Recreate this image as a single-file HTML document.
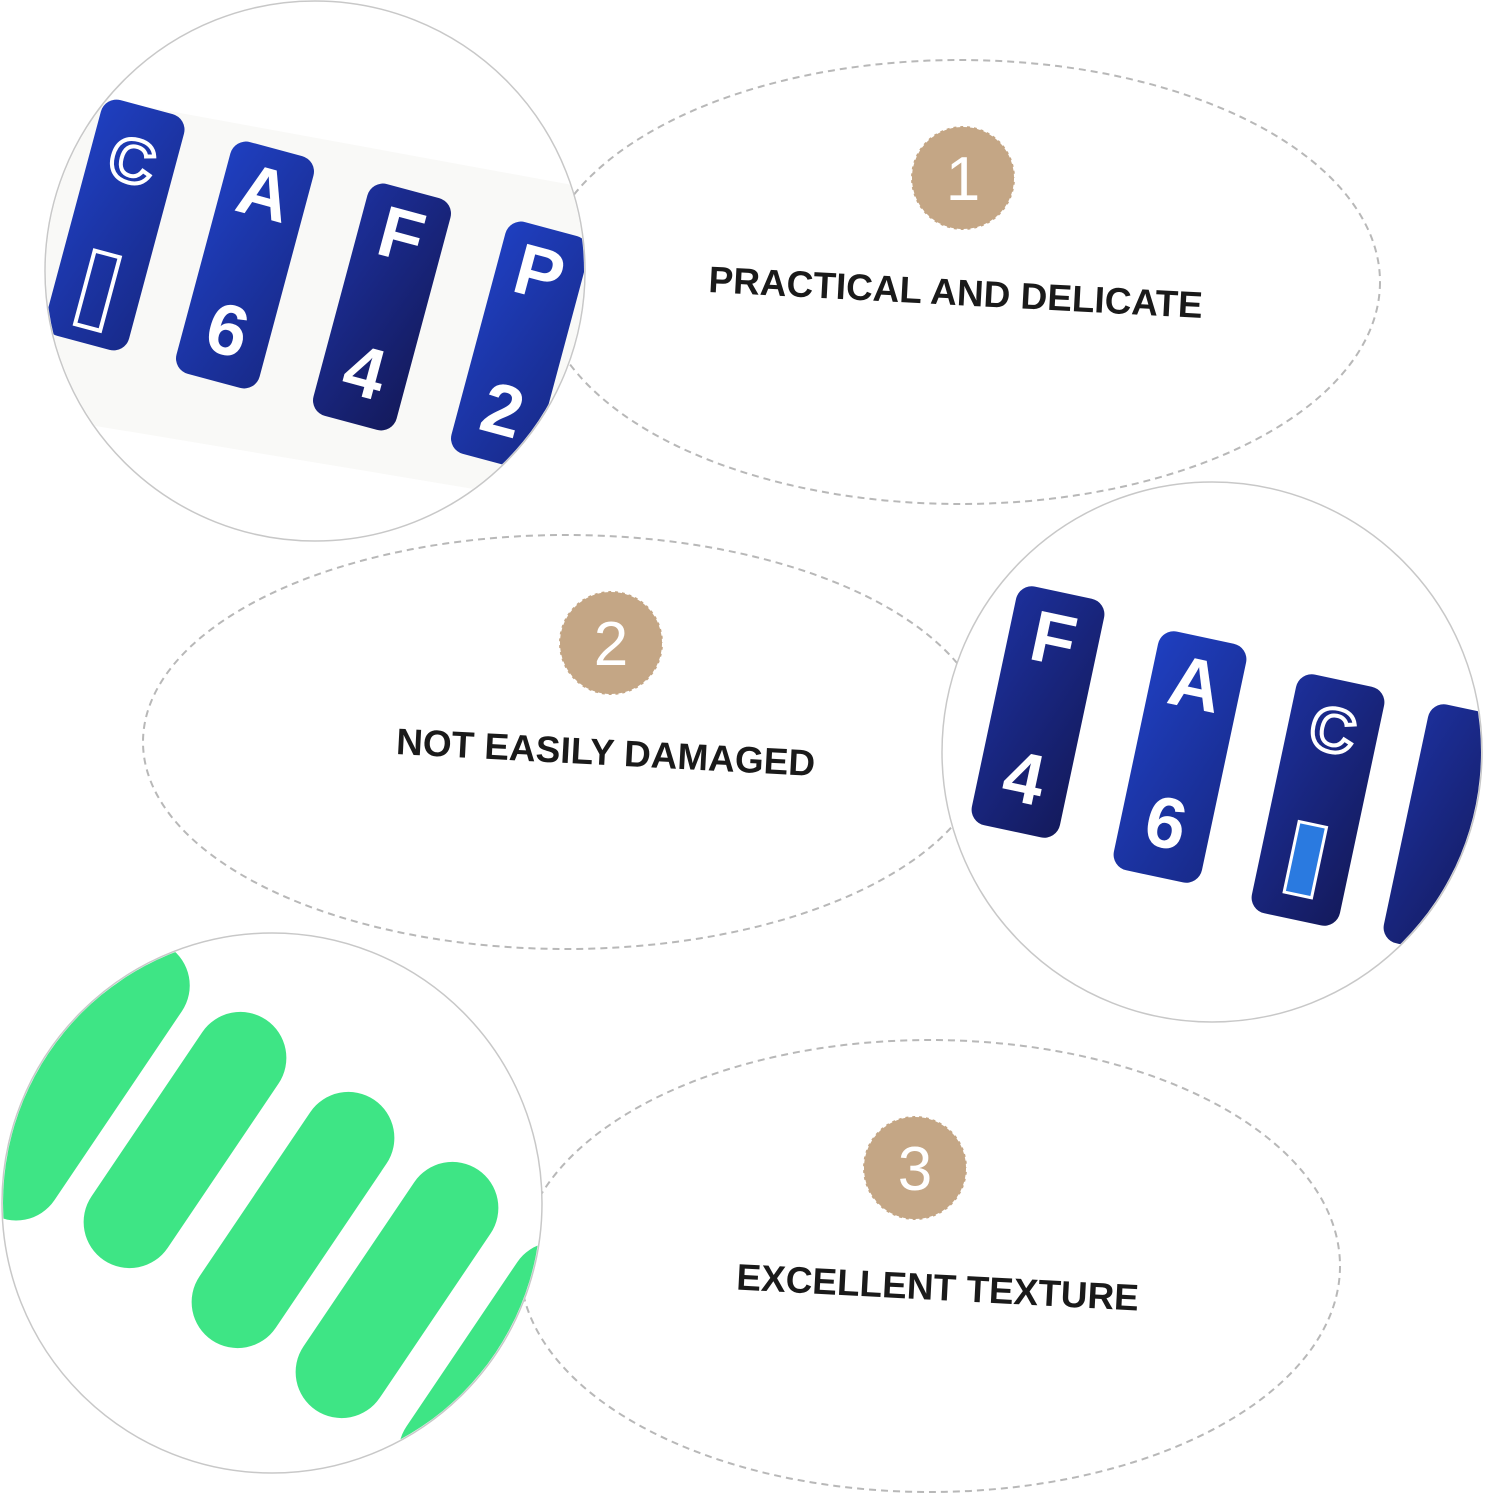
<!DOCTYPE html>
<html><head><meta charset="utf-8"><style>
html,body{margin:0;padding:0;background:#fff;}
svg{display:block}
text{font-family:"Liberation Sans",Arial,sans-serif;}
</style></head><body>
<svg width="1485" height="1500" viewBox="0 0 1485 1500" xmlns="http://www.w3.org/2000/svg">
<defs>
<clipPath id="c1"><circle cx="315" cy="271" r="269"/></clipPath>
<clipPath id="c2"><circle cx="1212" cy="752" r="269"/></clipPath>
<clipPath id="c3"><circle cx="272" cy="1203" r="269"/></clipPath>
<linearGradient id="bl" x1="0" y1="0" x2="1" y2="1"><stop offset="0" stop-color="#1f3fc0"/><stop offset="1" stop-color="#182a8a"/></linearGradient>
<linearGradient id="bd" x1="0" y1="0" x2="1" y2="1"><stop offset="0" stop-color="#1c2f9a"/><stop offset="1" stop-color="#141a5c"/></linearGradient>
</defs>
<g fill="none" stroke="#b8b8b8" stroke-width="2" stroke-dasharray="7 5">
<ellipse cx="960" cy="282" rx="420" ry="222"/>
<ellipse cx="566" cy="742" rx="423" ry="207"/>
<ellipse cx="930" cy="1266" rx="410" ry="226"/>
</g>
<!-- circle 1 -->
<circle cx="315" cy="271" r="270" fill="#fff" stroke="#c8c8c8" stroke-width="1.5"/>
<g clip-path="url(#c1)">
<polygon points="0,80 600,190 600,510 0,410" fill="#f9f9f7"/>
<g font-weight="bold" fill="#fff" font-size="72" text-anchor="middle">
<g transform="translate(115,225) rotate(15)"><rect x="-43" y="-122" width="86" height="244" rx="16" fill="url(#bl)"/><text y="-45" font-size="62" fill="none" stroke="#fff" stroke-width="4">C</text><rect x="-13" y="30" width="26" height="76" fill="none" stroke="#fff" stroke-width="4"/></g>
<g transform="translate(245,265) rotate(15)"><rect x="-43" y="-120" width="86" height="240" rx="16" fill="url(#bl)"/><text y="-50">A</text><text y="92">6</text></g>
<g transform="translate(382,307) rotate(15)"><rect x="-43" y="-120" width="86" height="240" rx="16" fill="url(#bd)"/><text y="-50">F</text><text y="92">4</text></g>
<g transform="translate(520,345) rotate(15)"><rect x="-43" y="-120" width="86" height="240" rx="16" fill="url(#bl)"/><text y="-50">P</text><text y="92">2</text></g>
</g></g>
<!-- circle 2 -->
<circle cx="1212" cy="752" r="270" fill="#fff" stroke="#c8c8c8" stroke-width="1.5"/>
<g clip-path="url(#c2)">
<g font-weight="bold" fill="#fff" font-size="72" text-anchor="middle">
<g transform="translate(1038,712) rotate(12)"><rect x="-45" y="-122" width="90" height="244" rx="16" fill="url(#bd)"/><text y="-50">F</text><text y="92">4</text></g>
<g transform="translate(1180,757) rotate(12)"><rect x="-45" y="-122" width="90" height="244" rx="16" fill="url(#bl)"/><text y="-50">A</text><text y="92">6</text></g>
<g transform="translate(1318,800) rotate(12)"><rect x="-45" y="-122" width="90" height="244" rx="16" fill="url(#bd)"/><text y="-50" fill="none" stroke="#fff" stroke-width="4" font-size="62">C</text><rect x="-14" y="25" width="28" height="72" fill="#2a7ae0" stroke="#fff" stroke-width="3"/></g>
<g transform="translate(1450,830) rotate(12)"><rect x="-45" y="-122" width="90" height="244" rx="16" fill="url(#bd)"/></g>
</g></g>
<!-- circle 3 -->
<circle cx="272" cy="1203" r="270" fill="#fff" stroke="#c8c8c8" stroke-width="1.5"/>
<g clip-path="url(#c3)" fill="#3ee585">
<g transform="translate(80,1080) rotate(-56)"><rect x="-160" y="-46" width="320" height="92" rx="46"/></g>
<g transform="translate(185,1140) rotate(-56)"><rect x="-145" y="-46" width="290" height="92" rx="46"/></g>
<g transform="translate(293,1220) rotate(-56)"><rect x="-145" y="-46" width="290" height="92" rx="46"/></g>
<g transform="translate(397,1290) rotate(-56)"><rect x="-145" y="-46" width="290" height="92" rx="46"/></g>
<g transform="translate(500,1370) rotate(-56)"><rect x="-145" y="-46" width="290" height="92" rx="46"/></g>
</g>
<!-- badges -->
<g fill="#c4a685" stroke="#fff" stroke-width="2" stroke-dasharray="4 3">
<circle cx="963" cy="178" r="52"/><circle cx="611" cy="643" r="52"/><circle cx="915" cy="1168" r="52"/>
</g>
<g fill="#fff" font-size="62" text-anchor="middle">
<text x="963" y="200">1</text><text x="611" y="665">2</text><text x="915" y="1190">3</text>
</g>
<g fill="#1a1a1a" font-weight="bold" font-size="37" text-anchor="middle">
<text transform="translate(955,305) rotate(3)">PRACTICAL AND DELICATE</text>
<text transform="translate(605,765) rotate(3)">NOT EASILY DAMAGED</text>
<text transform="translate(937,1300) rotate(3)">EXCELLENT TEXTURE</text>
</g>
</svg>
</body></html>
